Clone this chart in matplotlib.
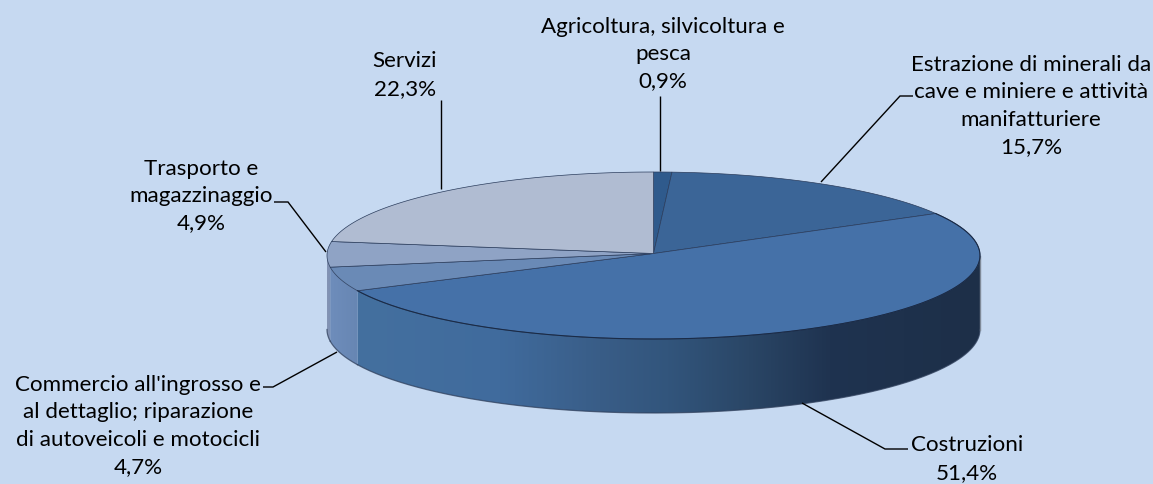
import numpy as np
import matplotlib
matplotlib.use("Agg")
import matplotlib.pyplot as plt
from matplotlib.colors import LinearSegmentedColormap
from matplotlib.patches import Polygon

categories = ["Agricoltura, silvicoltura e\npesca",
              "Estrazione di minerali da\ncave e miniere e attività\nmanifatturiere",
              "Costruzioni",
              "Commercio all'ingrosso e\nal dettaglio; riparazione\ndi autoveicoli e motocicli",
              "Trasporto e\nmagazzinaggio",
              "Servizi"]
values = [0.9, 15.7, 51.4, 4.7, 4.9, 22.3]
value_labels = ["0,9%", "15,7%", "51,4%", "4,7%", "4,9%", "22,3%"]
top_colors = ["#2f5a8c", "#3b6597", "#4571a8", "#6a8ab6", "#8fa3c5", "#b0bcd2"]
label_pos = [(663, 54), (1031, 106), (967, 459), (138, 426), (201, 196), (405, 75)]
leaders = [[(660, 96), (660, 171)],
           [(913, 96), (900, 96), (821, 182)],
           [(908, 449), (885, 449), (802, 403)],
           [(263, 387), (273, 387), (337, 352)],
           [(274, 202), (288, 202), (326, 252)],
           [(441, 100), (441, 189)]]
BG = "#c6d9f1"
CX, CY, RX, RY, DEPTH = 653.5, 255.5, 326.5, 83.5, 74

plt.rcParams["font.family"] = ["Lato", "DejaVu Sans"]
fig = plt.figure(figsize=(11.53, 4.84), dpi=100, facecolor=BG)
ax = fig.add_axes([0, 0, 1, 1])
ax.set_xlim(0, 1153)
ax.set_ylim(484, 0)
ax.axis("off")

def pt(theta):
    return CX + RX * np.sin(theta), CY - RY * np.cos(theta)

edges = np.radians(np.concatenate([[0], np.cumsum(values)]) / sum(values) * 360)

# Side walls (visible front half only: theta between 90 and 270 degrees)
side_cmap = {
    2: LinearSegmentedColormap.from_list("c", [(0, "#44709f"), (0.23, "#406b9d"), (0.39, "#395d87"),
                                               (0.5, "#32557c"), (0.63, "#2a4666"), (0.76, "#1f3350"), (1, "#1d2f48")]),
    3: LinearSegmentedColormap.from_list("d", ["#6e8dbb", "#6786b3"]),
    4: LinearSegmentedColormap.from_list("e", ["#8494b4", "#7d90b4"]),
}
for i in (2, 3, 4):
    a = max(edges[i], np.pi / 2)
    b = min(edges[i + 1], 3 * np.pi / 2)
    t = np.linspace(a, b, 200)
    x, y = pt(t)
    poly = np.vstack([np.column_stack([x, y]), np.column_stack([x[::-1], y[::-1] + DEPTH])])
    patch = Polygon(poly, closed=True, facecolor="none", edgecolor="none")
    ax.add_patch(patch)
    x0, x1 = x.min(), x.max()
    im = ax.imshow(np.linspace(0, 1, 256).reshape(1, -1), cmap=side_cmap[i], aspect="auto",
                   extent=[x0, x1, y.max() + DEPTH + 2, y.min() - 2], zorder=1)
    im.set_clip_path(patch)
    ax.plot(x, y + DEPTH, color="#30405c", lw=0.9, alpha=0.75, zorder=2)
ax.set_xlim(0, 1153)
ax.set_ylim(484, 0)
ax.plot([CX + RX, CX + RX], [CY, CY + DEPTH], color="#7f8a99", lw=1, zorder=2)

# Top faces
for i, col in enumerate(top_colors):
    t = np.linspace(edges[i], edges[i + 1], 200)
    x, y = pt(t)
    xy = np.vstack([[CX, CY - 2], np.column_stack([x, y])])
    ax.add_patch(Polygon(xy, closed=True, facecolor=col, edgecolor="#2a3c5c", lw=0.5, zorder=3))

# Dark rim of the front of the top face
t = np.linspace(edges[2], edges[3], 300)
x, y = pt(t)
ax.plot(x, y, color="#1a2b47", lw=0.8, zorder=4)

# Leader lines
for pts in leaders:
    px, py = zip(*pts)
    ax.plot(px, py, color="black", lw=1.0, zorder=5, solid_capstyle="butt", solid_joinstyle="miter")

# Labels
for name, val, (lx, ly) in zip(categories, value_labels, label_pos):
    ax.text(lx, ly, f"{name}\n{val}", ha="center", va="center", multialignment="center",
            fontsize=16.1, linespacing=1.46, color="black", zorder=6)

fig.savefig("out.png", dpi=100, facecolor=BG)
